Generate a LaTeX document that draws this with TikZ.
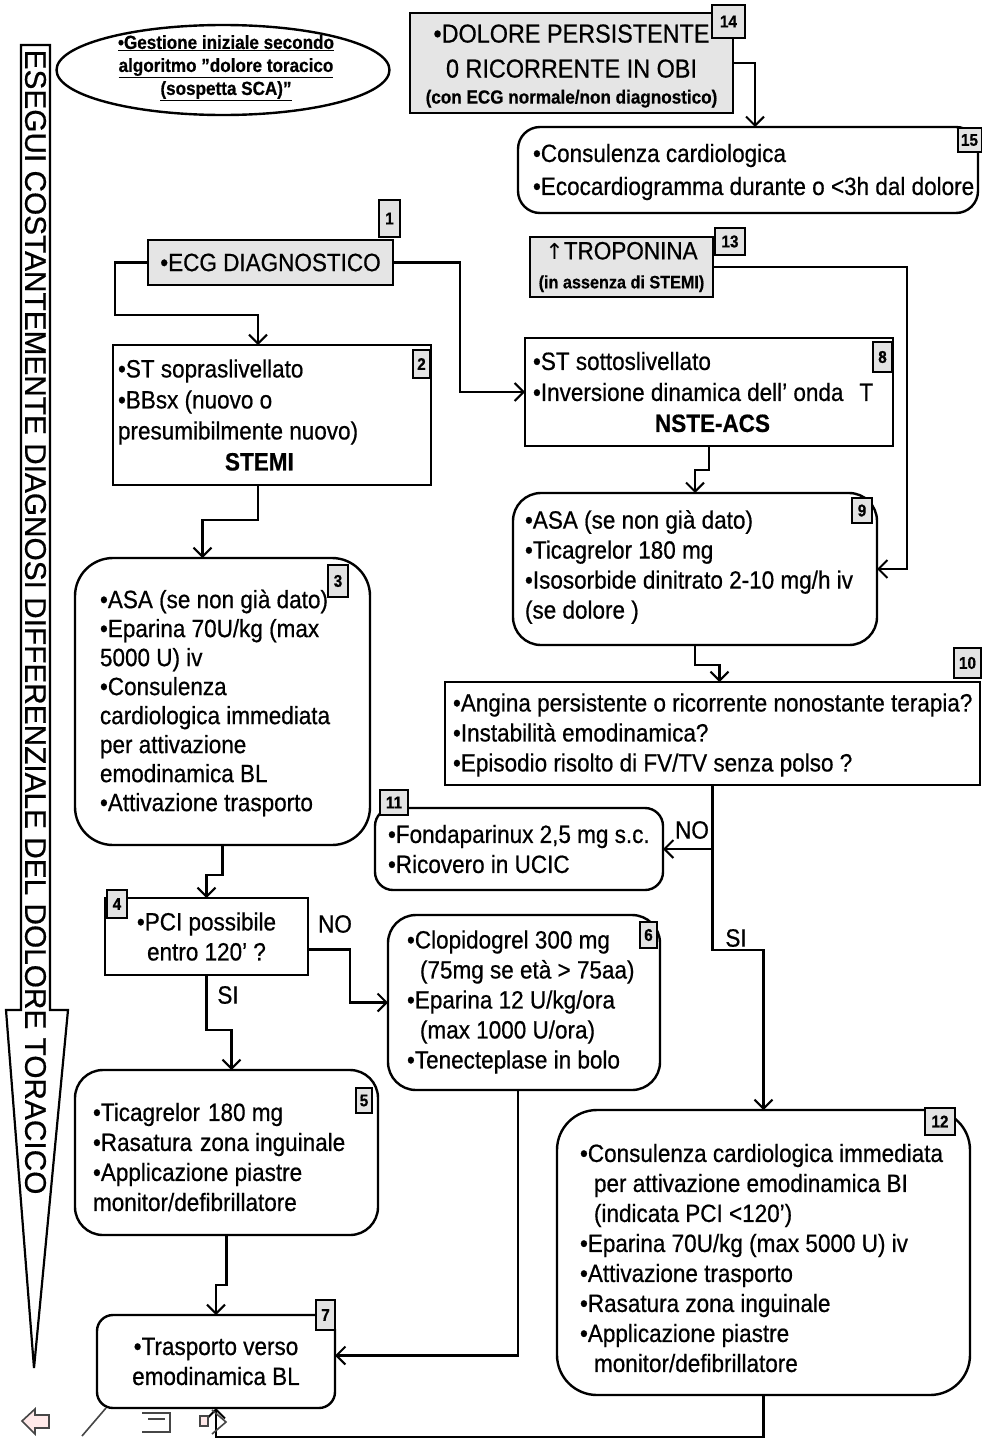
\documentclass[tikz,border=0pt]{standalone}
\usepackage{fontspec}
\setmainfont{Liberation Sans}[FakeStretch=0.9,FakeBold=0.6]
\newfontfamily\widefont{Liberation Sans}[FakeBold=0.5]
\newfontfamily\symfont{DejaVu Sans}
\usetikzlibrary{shapes.geometric,arrows.meta,calc}
\begin{document}
\begin{tikzpicture}[x=1pt,y=-1pt,
  every node/.style={inner sep=0pt, outer sep=0pt},
  sbox/.style={draw, line width=2.4pt, fill=white},
  rbox/.style={sbox, rounded corners=#1},
  gbox/.style={sbox, fill=gray!20},
  tagbox/.style={draw, line width=2pt, fill=gray!22, font=\fontsize{17}{17}\selectfont\bfseries},
  txt/.style={anchor=west, align=left, font=\fontsize{25}{30}\selectfont},
  ctxt/.style={align=center, font=\fontsize{25}{30}\selectfont},
  conn/.style={line width=2.4pt, -{Straight Barb[length=9pt,width=18pt,line width=2pt]}},
  lbl/.style={font=\fontsize{25}{30}\selectfont},
  icon/.style={draw=gray!55!black, line width=1.6pt}
]
\fill[white] (0,0) rectangle (982,1443);
\useasboundingbox (0,0) rectangle (982,1443);

% left vertical arrow
\draw[line width=2.2pt, fill=white] (21,45) -- (50,45) -- (50,1010) -- (68,1010) -- (34,1368) -- (6,1010) -- (21,1010) -- cycle;
\node[rotate=-90, font=\widefont\fontsize{29.8}{30}\selectfont] (vt) at (35.5,622) {ESEGUI COSTANTEMENTE DIAGNOSI DIFFERENZIALE DEL DOLORE TORACICO};

% ellipse
\node[ellipse, draw, line width=2.4pt, minimum width=333pt, minimum height=90pt] (ell) at (223,70) {};
\node[align=center, font=\fontsize{19}{23}\selectfont\bfseries] (ellt) at (226,68)
  {\underline{•Gestione iniziale secondo}\\\underline{algoritmo "dolore toracico}\\\underline{(sospetta SCA)"}};

% boxes
\node[gbox, minimum width=323pt, minimum height=100pt] (b14) at (571.5,63) {};
\node[align=center, font=\fontsize{26}{35}\selectfont] (x14) at (571.5,66)
  {•DOLORE PERSISTENTE\\0 RICORRENTE IN OBI\\[-9pt]{\fontsize{19}{24}\selectfont\bfseries (con ECG normale/non diagnostico)}};
\node[rbox=22pt, minimum width=460pt, minimum height=86pt] (b15) at (748,170) {};
\node[txt, font=\fontsize{25}{33}\selectfont] (x15) at (533,172) {•Consulenza cardiologica\\•Ecocardiogramma durante o <3h dal dolore};

\node[gbox, minimum width=245pt, minimum height=45pt, font=\fontsize{25}{30}\selectfont] (b1) at (270.5,262.5) {•ECG DIAGNOSTICO};
\node[gbox, minimum width=183pt, minimum height=60pt, align=center, font=\fontsize{25}{29}\selectfont] (b13) at (621.5,267)
  {{\symfont\fontsize{22}{27}\selectfont ↑}TROPONINA\\{\fontsize{18}{22}\selectfont\bfseries (in assenza di STEMI)}};

\node[sbox, minimum width=318pt, minimum height=140pt] (b2) at (272,415) {};
\node[txt, font=\fontsize{25}{31}\selectfont] (x2) at (118,415)
  {•ST sopraslivellato\\•BBsx (nuovo o\\presumibilmente nuovo)\\\hspace*{107pt}\textbf{STEMI}};

\node[sbox, minimum width=368pt, minimum height=108pt] (b8) at (709,392) {};
\node[txt, font=\fontsize{25}{31}\selectfont] (x8) at (533,392)
  {•ST sottoslivellato\\•Inversione dinamica dell' onda\hspace{16pt}T\\\hspace*{122pt}\textbf{NSTE-ACS}};

\node[rbox=28pt, minimum width=364pt, minimum height=152pt] (b9) at (695,569) {};
\node[txt] (x9) at (525,567)
  {•ASA (se non già dato)\\•Ticagrelor 180 mg\\•Isosorbide dinitrato 2-10 mg/h iv\\(se dolore )};

\node[rbox=38pt, minimum width=295pt, minimum height=287pt] (b3) at (222.5,701.5) {};
\node[txt, font=\fontsize{25}{29}\selectfont] (x3) at (100,703)
  {•ASA (se non già dato)\\•Eparina 70U/kg (max\\5000 U) iv\\•Consulenza\\cardiologica immediata\\per attivazione\\emodinamica BL\\•Attivazione trasporto};

\node[sbox, minimum width=535pt, minimum height=103pt] (b10) at (712.5,733.5) {};
\node[txt] (x10) at (453,735)
  {•Angina persistente o ricorrente nonostante terapia?\\•Instabilità emodinamica?\\•Episodio risolto di FV/TV senza polso ?};

\node[rbox=18pt, minimum width=288pt, minimum height=82pt] (b11) at (519,849) {};
\node[txt] (x11) at (388,849) {•Fondaparinux 2,5 mg s.c.\\•Ricovero in UCIC};

\node[sbox, minimum width=203pt, minimum height=77pt, ctxt] (b4) at (206.5,936.5) {•PCI possibile\\entro 120' ?};

\node[rbox=28pt, minimum width=272pt, minimum height=175pt] (b6) at (524,1002.5) {};
\node[txt] (x6) at (407,1002)
  {•Clopidogrel 300 mg\\\hspace*{13pt}(75mg se età > 75aa)\\•Eparina 12 U/kg/ora\\\hspace*{13pt}(max 1000 U/ora)\\•Tenecteplase in bolo};

\node[rbox=28pt, minimum width=303pt, minimum height=165pt] (b5) at (226.5,1152.5) {};
\node[txt] (x5) at (93,1157)
  {•Ticagrelor\hspace{8pt}180 mg\\•Rasatura\hspace{8pt}zona inguinale\\•Applicazione piastre\\monitor/defibrillatore};

\node[rbox=40pt, minimum width=413pt, minimum height=285pt] (b12) at (763.5,1252.5) {};
\node[txt] (x12) at (580,1258)
  {•Consulenza cardiologica immediata\\\hspace*{14pt}per attivazione emodinamica BI\\\hspace*{14pt}(indicata PCI <120')\\•Eparina 70U/kg (max 5000 U) iv\\•Attivazione trasporto\\•Rasatura zona inguinale\\•Applicazione piastre\\\hspace*{14pt}monitor/defibrillatore};

\node[rbox=16pt, minimum width=238pt, minimum height=93pt, ctxt] (b7) at (216,1361.5) {•Trasporto verso\\emodinamica BL};

% tags
\node[tagbox, minimum width=33pt, minimum height=33pt] (t14) at (728.5,21.5) {14};
\node[tagbox, minimum width=24pt, minimum height=24pt] (t15) at (969.5,140) {15};
\node[tagbox, minimum width=21pt, minimum height=37pt] (t1) at (389.5,218.5) {1};
\node[tagbox, minimum width=30pt, minimum height=27pt] (t13) at (730,241.5) {13};
\node[tagbox, minimum width=17pt, minimum height=28pt] (t2) at (421.5,364) {2};
\node[tagbox, minimum width=19pt, minimum height=30pt] (t8) at (882.5,357) {8};
\node[tagbox, minimum width=20pt, minimum height=25pt] (t9) at (862,510.5) {9};
\node[tagbox, minimum width=20pt, minimum height=32pt] (t3) at (338,581) {3};
\node[tagbox, minimum width=27pt, minimum height=30pt] (t10) at (967.5,663) {10};
\node[tagbox, minimum width=28pt, minimum height=25pt] (t11) at (394,802.5) {11};
\node[tagbox, minimum width=20pt, minimum height=28pt] (t4) at (117,904) {4};
\node[tagbox, minimum width=17pt, minimum height=26pt] (t6) at (648.5,935) {6};
\node[tagbox, minimum width=16pt, minimum height=25pt] (t5) at (364,1100.5) {5};
\node[tagbox, minimum width=30pt, minimum height=27pt] (t12) at (940,1121.5) {12};
\node[tagbox, minimum width=19pt, minimum height=30pt] (t7) at (325.5,1315) {7};

% connectors
\draw[conn] (b14.east) -| ([xshift=7pt]b15.north);
\draw[conn] (b1.west) -| (115,315) -| ([xshift=-14pt]b2.north);
\draw[conn] (b1.east) -| ($(b8.west)+(-65,0)$) -- (b8.west);
\draw[conn] (b13.east) -| ($(b9.east)+(30,0)$) -- (b9.east);
\draw[conn] (b8.south) -- ++(0,24) -| (b9.north);
\draw[conn] (b9.south) -- ++(0,20) -| ([xshift=7pt]b10.north);
\draw[conn] ([xshift=-14pt]b2.south) -- ++(0,35) -| ([xshift=-20pt]b3.north);
\draw[conn] (b3.south) -- ++(0,30) -| (b4.north);
\draw[conn] ([yshift=-13pt]b4.east) -| ($(b6.west)+(-38,0)$) -- (b6.west);
\draw[conn] (b4.south) -- ++(0,55) -| ([xshift=5pt]b5.north);
\draw[conn] (b5.south) -- ++(0,50) -| (b7.north);
\draw[conn] ([xshift=-6pt]b6.south) |- ([yshift=6pt]b7.east);
\draw[conn] (b10.south) |- (b11.east);
\draw[conn] (b10.south) -- ++(0,165) -| (b12.north);
\draw[conn] (b12.south) -- ++(0,42) -| (b7.south);

% labels
\node[lbl] (no1) at (335,924) {NO};
\node[lbl] (si1) at (228,995) {SI};
\node[lbl] (no2) at (692,830) {NO};
\node[lbl] (si2) at (736,938) {SI};

% slideshow icons
\draw[icon, fill=pink!35] (22,1421) -- (35,1409) -- (35,1415) -- (49,1415) -- (49,1428) -- (35,1428) -- (35,1434) -- cycle;
\draw[icon] (82,1436) -- (106,1408);
\draw[icon] (142,1413) -- (170,1413) -- (170,1432) -- (142,1432);
\draw[icon] (148,1419) -- (165,1419);
\draw[icon, fill=pink!35] (200,1416) rectangle (208,1426);
\draw[icon] (212,1410) -- (226,1422) -- (212,1434);
\end{tikzpicture}
\end{document}
